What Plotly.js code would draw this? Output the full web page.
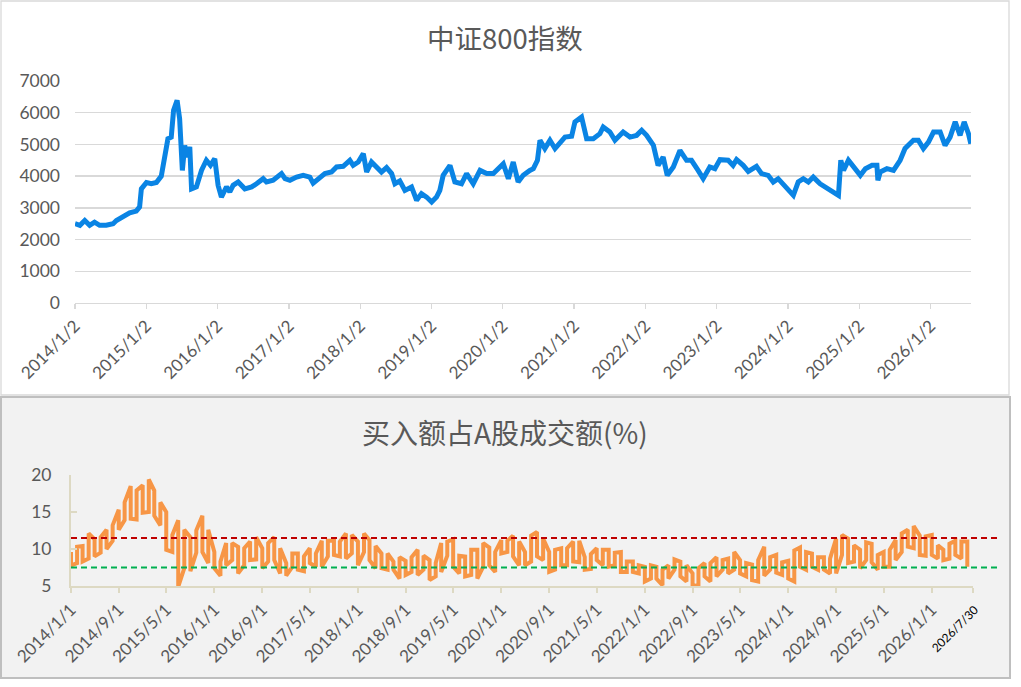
<!DOCTYPE html>
<html><head><meta charset="utf-8">
<script src="https://cdn.plot.ly/plotly-3.0.1.min.js"></script>
<style>html,body{margin:0;padding:0;background:#fff;}#chart{width:1021px;height:687px;}</style>
</head><body><div id="chart"></div>
<script>
// ---- Top panel: 中证800指数 ----
const idxDates = ['2014-01-02','2014-01-27','2014-02-21','2014-03-18','2014-04-12','2014-05-08','2014-06-11','2014-07-16','2014-08-02','2014-09-05','2014-10-09','2014-11-12','2014-11-29','2014-12-08','2015-01-03','2015-01-28','2015-02-23','2015-03-20','2015-04-06','2015-04-23','2015-05-10','2015-05-22','2015-06-09','2015-06-22','2015-07-06','2015-07-18','2015-07-30','2015-08-13','2015-08-22','2015-09-16','2015-10-12','2015-11-06','2015-11-27','2015-12-19','2016-01-05','2016-01-22','2016-02-17','2016-03-05','2016-03-22','2016-04-17','2016-05-21','2016-06-25','2016-07-20','2016-08-23','2016-09-09','2016-10-13','2016-11-25','2016-12-13','2017-01-07','2017-02-10','2017-03-16','2017-04-19','2017-05-06','2017-06-01','2017-07-05','2017-08-08','2017-09-03','2017-10-07','2017-11-10','2017-11-27','2017-12-23','2018-01-18','2018-02-04','2018-03-01','2018-03-27','2018-04-21','2018-05-17','2018-06-12','2018-06-29','2018-07-24','2018-08-19','2018-09-22','2018-10-18','2018-11-12','2018-12-08','2019-01-03','2019-01-28','2019-02-14','2019-03-03','2019-04-07','2019-05-02','2019-06-05','2019-07-01','2019-08-04','2019-09-08','2019-10-12','2019-11-15','2019-12-19','2020-01-05','2020-01-31','2020-02-25','2020-03-21','2020-04-16','2020-05-20','2020-06-07','2020-06-28','2020-07-11','2020-08-05','2020-08-31','2020-09-26','2020-10-22','2020-11-16','2020-12-20','2021-01-06','2021-02-09','2021-03-07','2021-04-10','2021-05-14','2021-05-31','2021-07-04','2021-07-30','2021-09-10','2021-10-15','2021-11-18','2021-12-14','2022-01-08','2022-02-12','2022-03-08','2022-04-03','2022-04-24','2022-05-25','2022-06-28','2022-08-01','2022-08-26','2022-09-29','2022-10-25','2022-11-28','2022-12-24','2023-01-19','2023-03-02','2023-03-27','2023-04-14','2023-05-18','2023-06-13','2023-07-25','2023-08-20','2023-09-23','2023-10-19','2023-11-13','2023-12-26','2024-01-30','2024-02-24','2024-03-21','2024-04-16','2024-05-11','2024-06-15','2024-07-19','2024-08-22','2024-09-17','2024-09-29','2024-10-13','2024-11-07','2024-12-03','2025-01-07','2025-02-02','2025-03-08','2025-04-02','2025-04-07','2025-04-19','2025-05-23','2025-06-26','2025-07-30','2025-08-24','2025-10-06','2025-10-31','2025-11-26','2025-12-22','2026-01-17','2026-02-20','2026-03-17','2026-04-12','2026-05-08','2026-06-02','2026-06-23','2026-07-15','2026-07-27'];
const idxValues = [2500,2450,2600,2450,2550,2450,2450,2500,2600,2710,2840,2900,3030,3600,3800,3760,3800,4000,4600,5180,5230,6075,6390,5810,4180,4970,4600,4920,3600,3660,4180,4500,4340,4550,3710,3340,3660,3500,3710,3815,3600,3660,3760,3920,3815,3870,4080,3920,3870,3970,4025,3970,3780,3920,4080,4130,4290,4310,4500,4340,4445,4710,4130,4445,4310,4130,4270,4080,3760,3850,3550,3660,3240,3450,3340,3185,3340,3550,4025,4340,3815,3760,4080,3760,4180,4080,4080,4290,4390,3920,4445,3815,4025,4180,4235,4500,5130,4870,5130,4870,5075,5230,5255,5710,5865,5180,5180,5340,5550,5390,5130,5390,5230,5285,5445,5285,4970,4340,4600,4025,4290,4810,4500,4500,4180,3920,4290,4235,4520,4500,4340,4520,4340,4150,4310,4080,4025,3815,3920,3660,3395,3815,3920,3815,3970,3760,3640,3500,3395,4500,4180,4500,4290,4025,4235,4340,4340,3870,4130,4235,4180,4500,4870,5130,5130,4870,5075,5390,5390,4970,5230,5710,5285,5710,5340,5020];
const idxTickVals = ['2014-01-02','2015-01-02','2016-01-02','2017-01-02','2018-01-02','2019-01-02','2020-01-02','2021-01-02','2022-01-02','2023-01-02','2024-01-02','2025-01-02','2026-01-02'];
const idxTickText = ['2014/1/2','2015/1/2','2016/1/2','2017/1/2','2018/1/2','2019/1/2','2020/1/2','2021/1/2','2022/1/2','2023/1/2','2024/1/2','2025/1/2','2026/1/2'];

// ---- Bottom panel: 买入额占A股成交额(%) — monthly high / low of the daily ratio ----
const ratioStartMonth = '2014-01';
const ratioHigh = [9.6,10.3,10.4,12.1,11.3,11.6,12.6,13.2,15.3,16.3,18.5,17.9,18.6,19.4,17.9,16.3,15.0,11.9,13.9,12.6,11.6,12.5,14.5,12.6,9.6,8.3,10.8,10.8,10.3,10.1,11.0,11.6,10.1,10.8,11.6,10.1,8.1,9.4,9.4,9.0,10.1,9.4,11.1,11.1,11.1,11.0,12.1,11.9,11.0,12.1,11.2,10.4,9.4,9.4,8.3,8.9,8.4,8.9,9.9,9.1,8.5,8.1,10.8,11.0,11.3,9.1,9.0,9.9,9.9,10.8,10.2,9.6,11.2,11.1,11.8,11.0,9.6,11.8,12.3,11.4,9.6,9.9,10.1,10.1,11.0,11.1,8.9,9.3,10.1,9.9,9.9,9.5,9.6,8.3,8.3,7.8,7.6,7.8,7.6,7.2,7.8,8.6,8.3,7.8,6.7,7.4,8.1,8.1,8.9,8.5,8.7,9.6,8.5,8.1,7.9,8.5,10.3,8.9,9.2,8.2,8.4,9.8,10.2,9.6,9.4,8.9,8.9,8.7,11.4,11.9,11.4,10.5,9.9,10.9,10.7,9.2,9.6,9.9,11.2,12.1,12.6,13.1,11.8,11.7,11.9,10.5,9.9,10.7,11.1,11.0,11.0];
const ratioLow = [7.8,8.1,8.3,8.7,9.0,9.5,10.0,11.1,12.6,13.9,14.1,14.0,14.9,15.0,14.5,13.2,9.9,9.6,4.9,7.4,7.0,9.5,9.6,8.1,7.4,6.4,7.8,8.5,6.7,7.8,8.5,8.6,7.4,8.3,8.5,6.7,6.4,7.6,7.2,7.0,8.1,7.6,7.6,9.0,9.2,9.0,8.7,9.4,7.8,9.6,8.5,7.4,7.4,7.2,7.2,6.0,6.5,6.9,6.5,7.2,5.8,6.3,6.9,9.1,7.6,6.7,6.3,6.5,6.0,7.6,7.8,6.9,9.4,9.6,9.0,7.8,7.8,8.3,9.0,8.5,6.9,7.2,7.8,7.8,8.3,8.2,7.2,7.3,8.5,7.8,7.6,7.8,6.9,6.9,6.9,6.7,5.6,6.0,6.0,5.1,6.0,7.2,6.3,5.6,5.0,5.1,6.3,5.6,6.3,7.2,6.7,7.2,6.7,6.3,5.8,5.6,6.4,7.2,6.8,6.5,6.0,5.6,7.6,7.2,7.6,7.2,7.2,6.7,6.7,9.2,8.1,8.3,7.4,8.5,8.2,7.2,7.6,7.6,8.5,9.6,10.3,10.1,9.2,9.1,9.2,8.7,8.5,8.7,9.2,8.7,7.6];
const upperLine = 11.5;
const lowerLine = 7.5;
const ratioTickVals = ['2014-01-01','2014-09-01','2015-05-01','2016-01-01','2016-09-01','2017-05-01','2018-01-01','2018-09-01','2019-05-01','2020-01-01','2020-09-01','2021-05-01','2022-01-01','2022-09-01','2023-05-01','2024-01-01','2024-09-01','2025-05-01','2026-01-01','2026-07-30'];
const ratioTickText = ['2014/1/1','2014/9/1','2015/5/1','2016/1/1','2016/9/1','2017/5/1','2018/1/1','2018/9/1','2019/5/1','2020/1/1','2020/9/1','2021/5/1','2022/1/1','2022/9/1','2023/5/1','2024/1/1','2024/9/1','2025/5/1','2026/1/1','<span style="font-size:12px;fill:#000;color:#000">2026/7/30</span>'];

// Build monthly vertical strokes (date-axis with month base unit)
const rx = [], ry = [];
{
  let y0 = parseInt(ratioStartMonth.slice(0,4)), m0 = parseInt(ratioStartMonth.slice(5,7)) - 1;
  for (let i = 0; i < ratioHigh.length; i++) {
    const yy = y0 + Math.floor((m0 + i) / 12), mm = (m0 + i) % 12 + 1;
    const d = yy + '-' + String(mm).padStart(2,'0') + '-01';
    const pair = (i % 2 === 0) ? [ratioHigh[i], ratioLow[i]] : [ratioLow[i], ratioHigh[i]];
    rx.push(d, d); ry.push(pair[0], pair[1]);
  }
}

const W = 1021, H = 687;
const px = v => v / W, py = v => 1 - v / H;
const FONT = 'Lato, "Noto Sans", sans-serif';
const xTickFont = {family: FONT, size: 17, color: '#595959'};
const yTickFont = {family: FONT, size: 17.5, color: '#595959'};

const traces = [
  {x: idxDates, y: idxValues, type: 'scatter', mode: 'lines', xaxis: 'x', yaxis: 'y',
   line: {color: '#0a84e4', width: 5}, hoverinfo: 'skip'},
  {x: rx, y: ry, type: 'scatter', mode: 'lines', xaxis: 'x2', yaxis: 'y2',
   line: {color: '#f79646', width: 4}, hoverinfo: 'skip'}
];

const layout = {
  width: W, height: H, autosize: false,
  margin: {l: 0, r: 0, t: 0, b: 0},
  paper_bgcolor: '#ffffff', plot_bgcolor: 'rgba(0,0,0,0)',
  showlegend: false,
  xaxis: {
    domain: [px(75), px(971)], anchor: 'y', type: 'date',
    range: ['2014-01-02', '2026-07-28'],
    tickvals: idxTickVals, ticktext: idxTickText, tickangle: -45,
    tickfont: xTickFont, showgrid: false, zeroline: false,
    showline: true, linecolor: '#d9d9d9', linewidth: 1.3,
    ticks: 'outside', ticklen: 5, tickcolor: '#d9d9d9', tickwidth: 1.3
  },
  yaxis: {
    domain: [py(303), py(81)], anchor: 'x',
    range: [0, 7000], tickvals: [0,1000,2000,3000,4000,5000,6000,7000],
    tickfont: yTickFont,
    showgrid: true, gridcolor: '#d9d9d9', gridwidth: 1.3,
    zeroline: false, showline: false, ticks: '', ticklabelstandoff: 14
  },
  xaxis2: {
    domain: [px(71), px(973)], anchor: 'y2', type: 'date',
    range: ['2014-01-01', '2026-07-30'],
    tickvals: ratioTickVals, ticktext: ratioTickText, tickangle: -45,
    tickfont: xTickFont, showgrid: false, zeroline: false,
    showline: true, linecolor: '#ddd9c3', linewidth: 2,
    ticks: 'outside', ticklen: 5, tickcolor: '#ddd9c3', tickwidth: 2
  },
  yaxis2: {
    domain: [py(586), py(475)], anchor: 'x2',
    range: [5, 20], tickvals: [5,10,15,20],
    tickfont: yTickFont,
    showgrid: false, zeroline: false,
    showline: true, linecolor: '#ddd9c3', linewidth: 2,
    ticks: 'inside', ticklen: 6, tickcolor: '#ddd9c3', tickwidth: 2,
    ticklabelstandoff: 14
  },
  shapes: [
    {type: 'rect', xref: 'paper', yref: 'paper', x0: px(1), x1: px(1009), y0: py(395), y1: py(1),
     fillcolor: '#ffffff', line: {color: '#d9d9d9', width: 1.3}, layer: 'below'},
    {type: 'rect', xref: 'paper', yref: 'paper', x0: px(1), x1: px(1010), y0: py(678), y1: py(397),
     fillcolor: '#f2f2f2', line: {color: '#bfbfbf', width: 2}, layer: 'below'},
    {type: 'line', xref: 'paper', yref: 'y2', x0: px(71), x1: px(998), y0: upperLine, y1: upperLine,
     line: {color: '#c00000', width: 2, dash: '6px,4px'}},
    {type: 'line', xref: 'paper', yref: 'y2', x0: px(71), x1: px(998), y0: lowerLine, y1: lowerLine,
     line: {color: '#00b050', width: 2, dash: '6px,4px'}}
  ],
  annotations: [
    {text: '中证800指数', xref: 'paper', yref: 'paper', x: px(505), y: py(37), showarrow: false,
     xanchor: 'center', yanchor: 'middle',
     font: {family: '"Noto Sans CJK SC", sans-serif', size: 27.5, color: '#595959'}},
    {text: '买入额占A股成交额(%)', xref: 'paper', yref: 'paper', x: px(505), y: py(432), showarrow: false,
     xanchor: 'center', yanchor: 'middle',
     font: {family: '"Noto Sans CJK SC", sans-serif', size: 28, color: '#595959'}}
  ]
};

Plotly.newPlot('chart', traces, layout, {staticPlot: true, displayModeBar: false});
</script>
</body></html>
